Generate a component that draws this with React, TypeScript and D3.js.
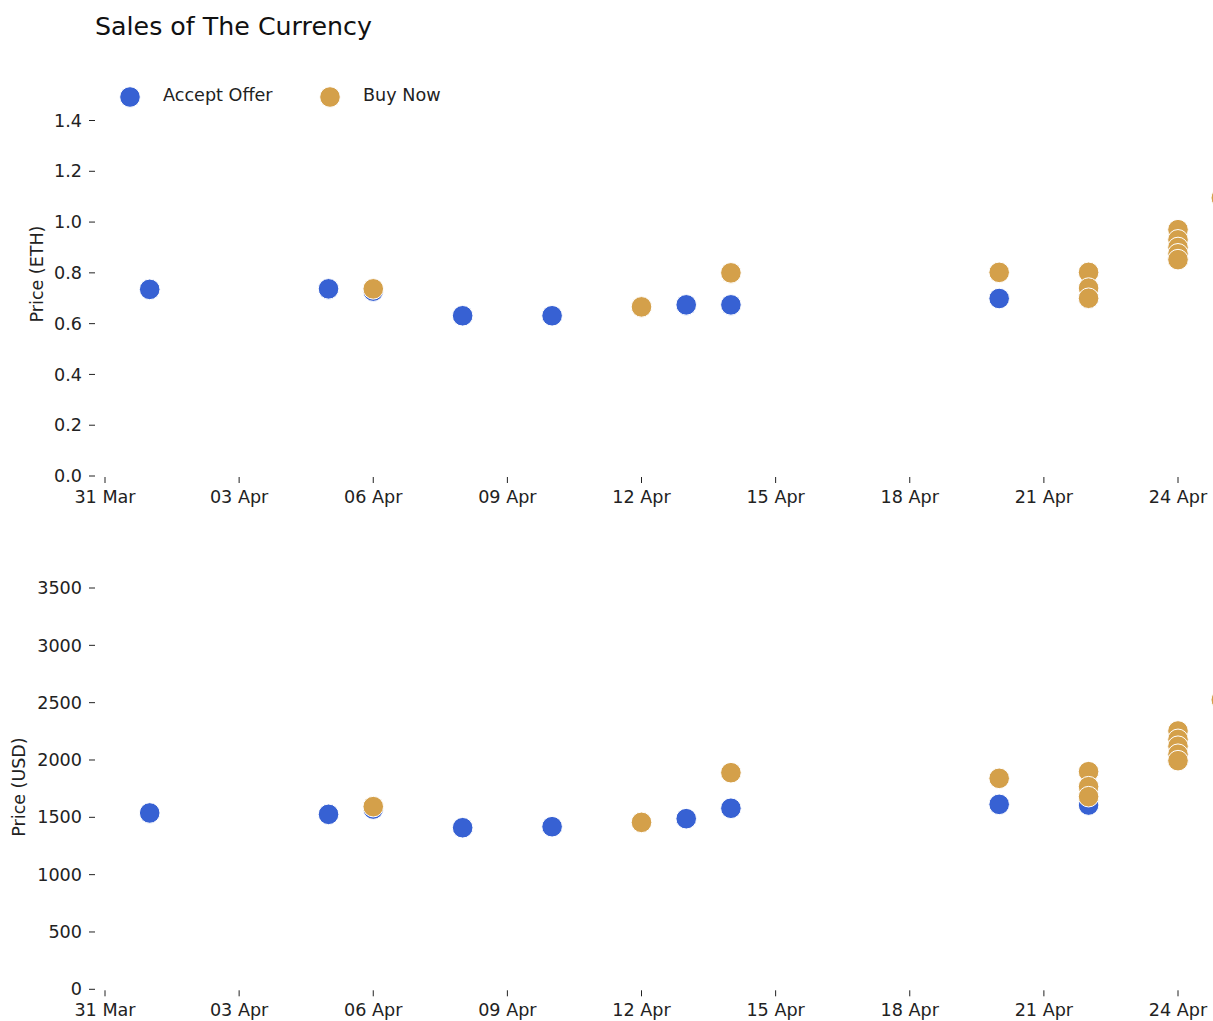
import React, { useEffect } from "react";
import * as d3 from "d3";

const title = "Sales of The Currency";
const seriesNames = ["Accept Offer", "Buy Now"];
const seriesColors = ["#3761d3", "#d4a04a"];

const acceptDates = ["2021-04-01", "2021-04-05", "2021-04-06", "2021-04-08", "2021-04-10", "2021-04-13", "2021-04-14", "2021-04-20", "2021-04-22"];
const acceptEth = [0.735, 0.737, 0.728, 0.631, 0.631, 0.674, 0.674, 0.699, 0.699];
const acceptUsd = [1538, 1526, 1572, 1409, 1418, 1488, 1579, 1613, 1607];

const buyDates = ["2021-04-06", "2021-04-12", "2021-04-14", "2021-04-20", "2021-04-22", "2021-04-22", "2021-04-22", "2021-04-24", "2021-04-24", "2021-04-24", "2021-04-24", "2021-04-24", "2021-04-24T23:15"];
const buyEth = [0.737, 0.666, 0.800, 0.802, 0.802, 0.740, 0.700, 0.970, 0.930, 0.900, 0.875, 0.852, 1.095];
const buyUsd = [1593, 1456, 1889, 1840, 1898, 1767, 1680, 2253, 2180, 2120, 2050, 1994, 2524];

const xTickDates = ["2021-03-31", "2021-04-03", "2021-04-06", "2021-04-09", "2021-04-12", "2021-04-15", "2021-04-18", "2021-04-21", "2021-04-24"];
const ethTicks = [0, 0.2, 0.4, 0.6, 0.8, 1.0, 1.2, 1.4];
const usdTicks = [0, 500, 1000, 1500, 2000, 2500, 3000, 3500];

const W = 1213;
const H = 1021;
const FONT = "DejaVu Sans";
const FS = 17.6;
const parse = (s: string) => new Date(s + (s.length === 10 ? "T00:00" : ""));

function Panel({ yScale, ticks, fmt, accVals, buyVals, label, labelX, labelY, x }: any) {
  const y0 = yScale(0);
  const left = 95;
  return (
    <g>
      {ticks.map((t: number) => (
        <g key={"y" + t} transform={`translate(0,${yScale(t)})`}>
          <line x1={left - 6} x2={left} stroke="#222" strokeWidth={1} />
          <text x={left - 13} dy="0.35em" textAnchor="end" fontSize={FS} fontFamily={FONT} fill="#222">{fmt(t)}</text>
        </g>
      ))}
      {xTickDates.map((d) => {
        const px = x(parse(d));
        return (
          <g key={"x" + d} transform={`translate(${px},${y0 + 1})`}>
            <line y1={0} y2={6} stroke="#222" strokeWidth={1} />
            <text y={26} textAnchor="middle" fontSize={FS} fontFamily={FONT} fill="#222">{d3.timeFormat("%d %b")(parse(d))}</text>
          </g>
        );
      })}
      <text transform={`translate(${labelX},${labelY}) rotate(-90)`} textAnchor="middle" fontSize={17.5} fontFamily={FONT} fill="#222">{label}</text>
      {accVals.map((v: number, i: number) => (
        <circle key={"a" + i} cx={x(parse(acceptDates[i]))} cy={yScale(v)} r={10.3} fill={seriesColors[0]} stroke="#fff" strokeWidth={1} />
      ))}
      {buyVals.map((v: number, i: number) => (
        <circle key={"b" + i} cx={x(parse(buyDates[i]))} cy={yScale(v)} r={10.3} fill={seriesColors[1]} stroke="#fff" strokeWidth={1} />
      ))}
    </g>
  );
}

export default function App() {
  useEffect(() => {
    document.body.style.margin = "0";
  }, []);
  const x = d3.scaleTime().domain([parse("2021-03-31"), parse("2021-04-24")]).range([105, 1178]);
  const yEth = d3.scaleLinear().domain([0, 1.4]).range([476, 120.5]);
  const yUsd = d3.scaleLinear().domain([0, 3500]).range([989.3, 588]);
  return (
    <svg width={W} height={H} style={{ display: "block", background: "#fff" }}>
      <text x={95} y={35} fontSize={25.3} fontFamily={FONT} fill="#111">{title}</text>
      {seriesNames.map((n, i) => (
        <g key={n} transform={`translate(${130 + i * 200},97)`}>
          <circle r={10.3} fill={seriesColors[i]} stroke="#fff" strokeWidth={1} />
          <text x={33} dy="0.22em" fontSize={FS} fontFamily={FONT} fill="#222">{n}</text>
        </g>
      ))}
      <Panel yScale={yEth} ticks={ethTicks} fmt={(t: number) => t.toFixed(1)} accVals={acceptEth} buyVals={buyEth} label="Price (ETH)" labelX={43} labelY={274} x={x} />
      <Panel yScale={yUsd} ticks={usdTicks} fmt={(t: number) => String(t)} accVals={acceptUsd} buyVals={buyUsd} label="Price (USD)" labelX={25} labelY={787} x={x} />
    </svg>
  );
}
